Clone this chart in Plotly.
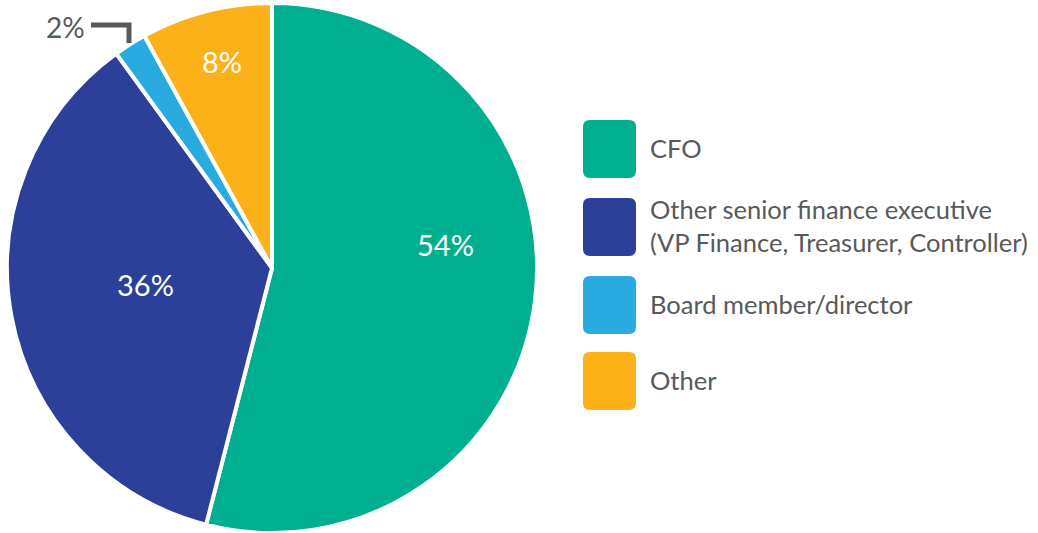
import plotly.graph_objects as go

categories = ["CFO", "Other senior finance executive<br>(VP Finance, Treasurer, Controller)",
              "Board member/director", "Other"]
values = [54, 36, 2, 8]
colors = ["#00AF8F", "#2C4099", "#29ABE2", "#FBB117"]
slice_text = ["54%", "36%", "2%", "8%"]

W, H = 1038, 533
GRAY = "#58595B"
FONT = "Lato"

# label anchor positions in pixels (layout only)
label_pos = [(445, 244), (145, 284), (65, 27), (222, 61)]
label_inside = [True, True, False, True]

fig = go.Figure(go.Pie(
    labels=categories,
    values=values,
    textinfo="none",
    marker=dict(colors=colors, line=dict(color="white", width=4)),
    sort=False,
    direction="clockwise",
    rotation=0,
    showlegend=False,
    hoverinfo="skip",
    domain=dict(x=[6 / W, 538 / W], y=[0, 1 - 3 / H]),
))

def px(x): return x / W
def py(y): return 1 - y / H

shapes = []
annotations = []

# slice labels
for txt, (lx, ly), inside in zip(slice_text, label_pos, label_inside):
    annotations.append(dict(x=px(lx), y=py(ly), xref="paper", yref="paper",
                            text=txt, showarrow=False, xanchor="center", yanchor="middle",
                            font=dict(size=29 if inside else 28,
                                      color="white" if inside else GRAY, family=FONT)))
# connector for the small slice
shapes.append(dict(type="path", xref="paper", yref="paper",
                   path=f"M {px(91)} {py(25)} L {px(129)} {py(25)} L {px(129)} {py(43)}",
                   line=dict(color=GRAY, width=5)))

# legend built from categories
legend_y = [149, 227, 305, 381]
sq_w, sq_h, rad = 53, 58, 7
x0 = 583
for cat, col, yc in zip(categories, colors, legend_y):
    x1 = x0 + sq_w
    ya, yb = yc - sq_h / 2, yc + sq_h / 2
    path = (f"M {px(x0+rad)} {py(ya)} L {px(x1-rad)} {py(ya)} Q {px(x1)} {py(ya)} {px(x1)} {py(ya+rad)} "
            f"L {px(x1)} {py(yb-rad)} Q {px(x1)} {py(yb)} {px(x1-rad)} {py(yb)} "
            f"L {px(x0+rad)} {py(yb)} Q {px(x0)} {py(yb)} {px(x0)} {py(yb-rad)} "
            f"L {px(x0)} {py(ya+rad)} Q {px(x0)} {py(ya)} {px(x0+rad)} {py(ya)} Z")
    shapes.append(dict(type="path", path=path, xref="paper", yref="paper",
                       fillcolor=col, line=dict(width=0)))
    annotations.append(dict(x=px(648), y=py(yc - 1), xref="paper", yref="paper",
                            text=cat, showarrow=False, xanchor="left", yanchor="middle",
                            align="left", font=dict(size=25.5, color=GRAY, family=FONT)))

fig.update_layout(
    width=W, height=H,
    margin=dict(l=0, r=0, t=0, b=0),
    paper_bgcolor="white",
    plot_bgcolor="white",
    shapes=shapes,
    annotations=annotations,
)

fig.write_html("out.html", config={"displayModeBar": False},
               post_script="document.body.style.margin='0';")
